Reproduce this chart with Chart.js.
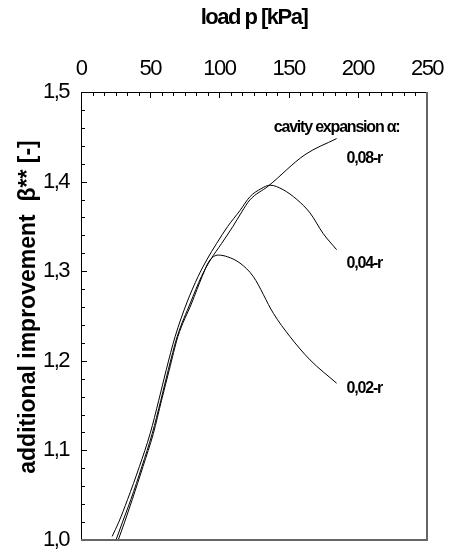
<!DOCTYPE html>
<html>
<head>
<meta charset="utf-8">
<script src="https://cdn.jsdelivr.net/npm/chart.js@4"></script>
<style>
  html, body { margin: 0; padding: 0; background: #fff; overflow: hidden; }
  canvas { display: block; }
</style>
</head>
<body>
<canvas id="chart" width="450" height="556"></canvas>
<script>
// load p [kPa] and beta**
const load02 = [26.9, 31.5, 37, 44.8, 52.3, 58.2, 63.8, 70, 80, 87.5, 92.5, 99.2, 106, 114.9, 124.5, 139, 151, 165.5, 184.7];
const beta02 = [1.0, 1.02, 1.045, 1.082, 1.119, 1.156, 1.19, 1.227, 1.2645, 1.294, 1.311, 1.318, 1.316, 1.309, 1.294, 1.253, 1.227, 1.201, 1.175];

const load04 = [22.5, 27.3, 33.6, 42.2, 50, 56.2, 61.6, 68, 76.4, 84.6, 90.8, 98, 106, 115, 122, 130, 136.6, 146, 156, 165.5, 175, 184.7];
const beta04 = [1.004, 1.02, 1.045, 1.082, 1.119, 1.156, 1.19, 1.227, 1.2645, 1.294, 1.3125, 1.331, 1.35, 1.368, 1.383, 1.392, 1.396, 1.391, 1.38, 1.365, 1.342, 1.324];

const load08 = [25.3, 30, 36, 44, 51.5, 57.7, 63.1, 69.5, 79, 87, 93.5, 101.6, 109.8, 116.1, 122, 135.3, 161.8, 184.7];
const beta08 = [1.0, 1.02, 1.045, 1.082, 1.119, 1.156, 1.19, 1.227, 1.2645, 1.294, 1.3125, 1.331, 1.35, 1.366, 1.3795, 1.395, 1.43, 1.448];

const curveLabels = ['0,02-r', '0,04-r', '0,08-r'];
const labelBeta = [1.169, 1.309, 1.426];
const legendTitle = 'cavity expansion \u03b1:';
const legendBeta = 1.46;

const xTitle = 'load p [kPa]';
const yTitle = 'additional improvement  \u03b2** [-]';

function pts(xs, ys) {
    return xs.map((v, i) => ({ x: v, y: ys[i] }));
}

function line(data) {
    return {
        data: data,
        borderColor: '#000',
        borderWidth: 1,
        pointRadius: 0,
        fill: false,
        cubicInterpolationMode: 'monotone'
    };
}

const tight = '-1.5px';

const framePlugin = {
    id: 'frame',
    beforeLayout(chart) { chart.ctx.letterSpacing = tight; },
    beforeDraw(chart) { chart.ctx.letterSpacing = tight; },
    afterDraw(chart) {
        const { ctx, scales: { x, y } } = chart;
        const left = x.getPixelForValue(x.min);
        const right = x.getPixelForValue(x.max);
        const top = y.getPixelForValue(y.max);
        const bottom = y.getPixelForValue(y.min);
        ctx.save();

        // inside tick marks
        ctx.strokeStyle = '#000';
        ctx.lineWidth = 1;
        ctx.beginPath();
        y.ticks.forEach(t => {
            const py = Math.round(y.getPixelForValue(t.value)) + 0.5;
            const len = t.label ? 6 : 4;
            ctx.moveTo(left, py);
            ctx.lineTo(left + len, py);
        });
        x.ticks.forEach(t => {
            const px = Math.round(x.getPixelForValue(t.value)) + 0.5;
            const len = t.label ? 6 : 4;
            ctx.moveTo(px, top);
            ctx.lineTo(px, top + len);
        });
        ctx.stroke();

        // frame: black left/top, grey right/bottom
        ctx.beginPath();
        ctx.moveTo(left + 0.5, bottom);
        ctx.lineTo(left + 0.5, top + 0.5);
        ctx.lineTo(right, top + 0.5);
        ctx.stroke();
        ctx.strokeStyle = '#666';
        ctx.lineWidth = 2;
        ctx.beginPath();
        ctx.moveTo(right, top);
        ctx.lineTo(right, bottom);
        ctx.lineTo(left, bottom);
        ctx.stroke();

        // curve labels
        ctx.fillStyle = '#000';
        ctx.font = 'bold 16px "Liberation Sans"';
        ctx.letterSpacing = '-1.2px';
        ctx.textBaseline = 'middle';
        const endX = x.getPixelForValue(load08[load08.length - 1]);
        ctx.textAlign = 'center';
        ctx.fillText(legendTitle, endX, y.getPixelForValue(legendBeta));
        ctx.textAlign = 'left';
        curveLabels.forEach((txt, i) => {
            ctx.fillText(txt, endX + 10, y.getPixelForValue(labelBeta[i]));
        });

        // y axis title
        ctx.letterSpacing = '0px';
        ctx.font = 'bold 23px "Liberation Sans"';
        ctx.textAlign = 'center';
        ctx.translate(29, 307);
        ctx.rotate(-Math.PI / 2);
        ctx.fillText(yTitle, 0, 0);
        ctx.restore();
    }
};

Chart.defaults.font.family = '"Liberation Sans", Arial, sans-serif';
Chart.defaults.color = '#000';

new Chart(document.getElementById('chart'), {
    type: 'line',
    data: {
        datasets: [
            line(pts(load02, beta02)),
            line(pts(load04, beta04)),
            line(pts(load08, beta08))
        ]
    },
    options: {
        responsive: false,
        animation: false,
        layout: { padding: { left: 0, top: 0, right: 23, bottom: 16 } },
        plugins: {
            legend: { display: false },
            tooltip: { enabled: false }
        },
        scales: {
            x: {
                type: 'linear',
                position: 'top',
                min: 0,
                max: 250,
                grid: { display: false, drawTicks: false },
                border: { display: false },
                ticks: {
                    stepSize: 25 / 3,
                    autoSkip: false,
                    maxRotation: 0,
                    padding: 10,
                    font: { size: 22 },
                    callback: v => Math.abs(v / 50 - Math.round(v / 50)) < 1e-6 ? String(Math.round(v)) : ''
                },
                title: {
                    display: true,
                    text: xTitle,
                    font: { size: 22, weight: 'bold' },
                    padding: { top: 5, bottom: 0 }
                },
                afterFit: s => {
                    s.height = 92;
                    s.paddingLeft = 0;
                    s.paddingRight = 0;
                }
            },
            y: {
                min: 1.0,
                max: 1.5,
                grid: { display: false, drawTicks: false },
                border: { display: false },
                ticks: {
                    stepSize: 0.02,
                    autoSkip: false,
                    padding: 12,
                    font: { size: 22 },
                    callback: v => Math.abs(v * 10 - Math.round(v * 10)) < 1e-6 ? v.toFixed(1).replace('.', ',') : ''
                },
                afterFit: s => {
                    s.width = 81;
                    s.paddingTop = 0;
                    s.paddingBottom = 0;
                }
            }
        }
    },
    plugins: [framePlugin]
});
</script>
</body>
</html>
